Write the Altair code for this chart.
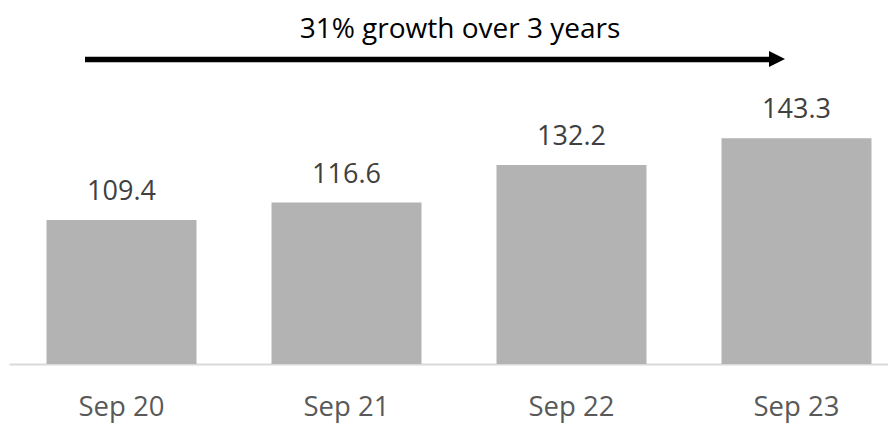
import altair as alt
import pandas as pd

periods = ["Sep 20", "Sep 21", "Sep 22", "Sep 23"]
values = [109.4, 116.6, 132.2, 143.3]
value_labels = ["109.4", "116.6", "132.2", "143.3"]
headline = "31% growth over 3 years"

df = pd.DataFrame({"period": periods, "value": values, "label": value_labels})
note = pd.DataFrame({"text": [headline]})

FONT = "Open Sans"

x_enc = alt.X(
    "period:N",
    sort=periods,
    scale=alt.Scale(range=[1, 901], paddingInner=1 / 3, paddingOuter=1 / 6),
    axis=alt.Axis(
        title=None, labelAngle=0, ticks=False, tickSize=0, grid=False,
        domainColor="#d9d9d9", domainWidth=2,
        labelFont=FONT, labelFontSize=27.5, labelColor="#595959",
        labelBaseline="alphabetic", labelPadding=51,
    ),
)
y_enc = alt.Y(
    "value:Q",
    scale=alt.Scale(domain=[49.5, 197.5], zero=False, nice=False),
    axis=None,
)

bars = alt.Chart(df).mark_bar(color="#b3b3b3", clip=True).encode(x=x_enc, y=y_enc)

labels = alt.Chart(df).mark_text(
    font=FONT, fontSize=27, color="#404040", baseline="alphabetic", dy=-20
).encode(x=x_enc, y=y_enc, text="label:N")

title = alt.Chart(note).mark_text(
    font=FONT, fontSize=28, color="#000000", baseline="alphabetic", align="center"
).encode(x=alt.value(452), y=alt.value(30), text="text:N")

arrow_line = alt.Chart(note).mark_rule(color="#000000", strokeWidth=5.5).encode(
    x=alt.value(77), x2=alt.value(763), y=alt.value(51.5)
)

arrow_head = alt.Chart(note).mark_point(
    shape="M -1 -1 L 1 0 L -1 1 Z", filled=True, color="#000000", opacity=1,
    size=256, strokeWidth=0,
).encode(x=alt.value(769), y=alt.value(51))

chart = alt.layer(bars, labels, title, arrow_line, arrow_head).properties(
    width=880,
    height=356,
    autosize=alt.AutoSizeParams(type="none"),
    padding={"left": 0, "top": 0, "right": 0, "bottom": 59},
    background="white",
).configure_view(stroke=None)

chart.save("out.html", embed_options={"renderer": "svg", "actions": False})
